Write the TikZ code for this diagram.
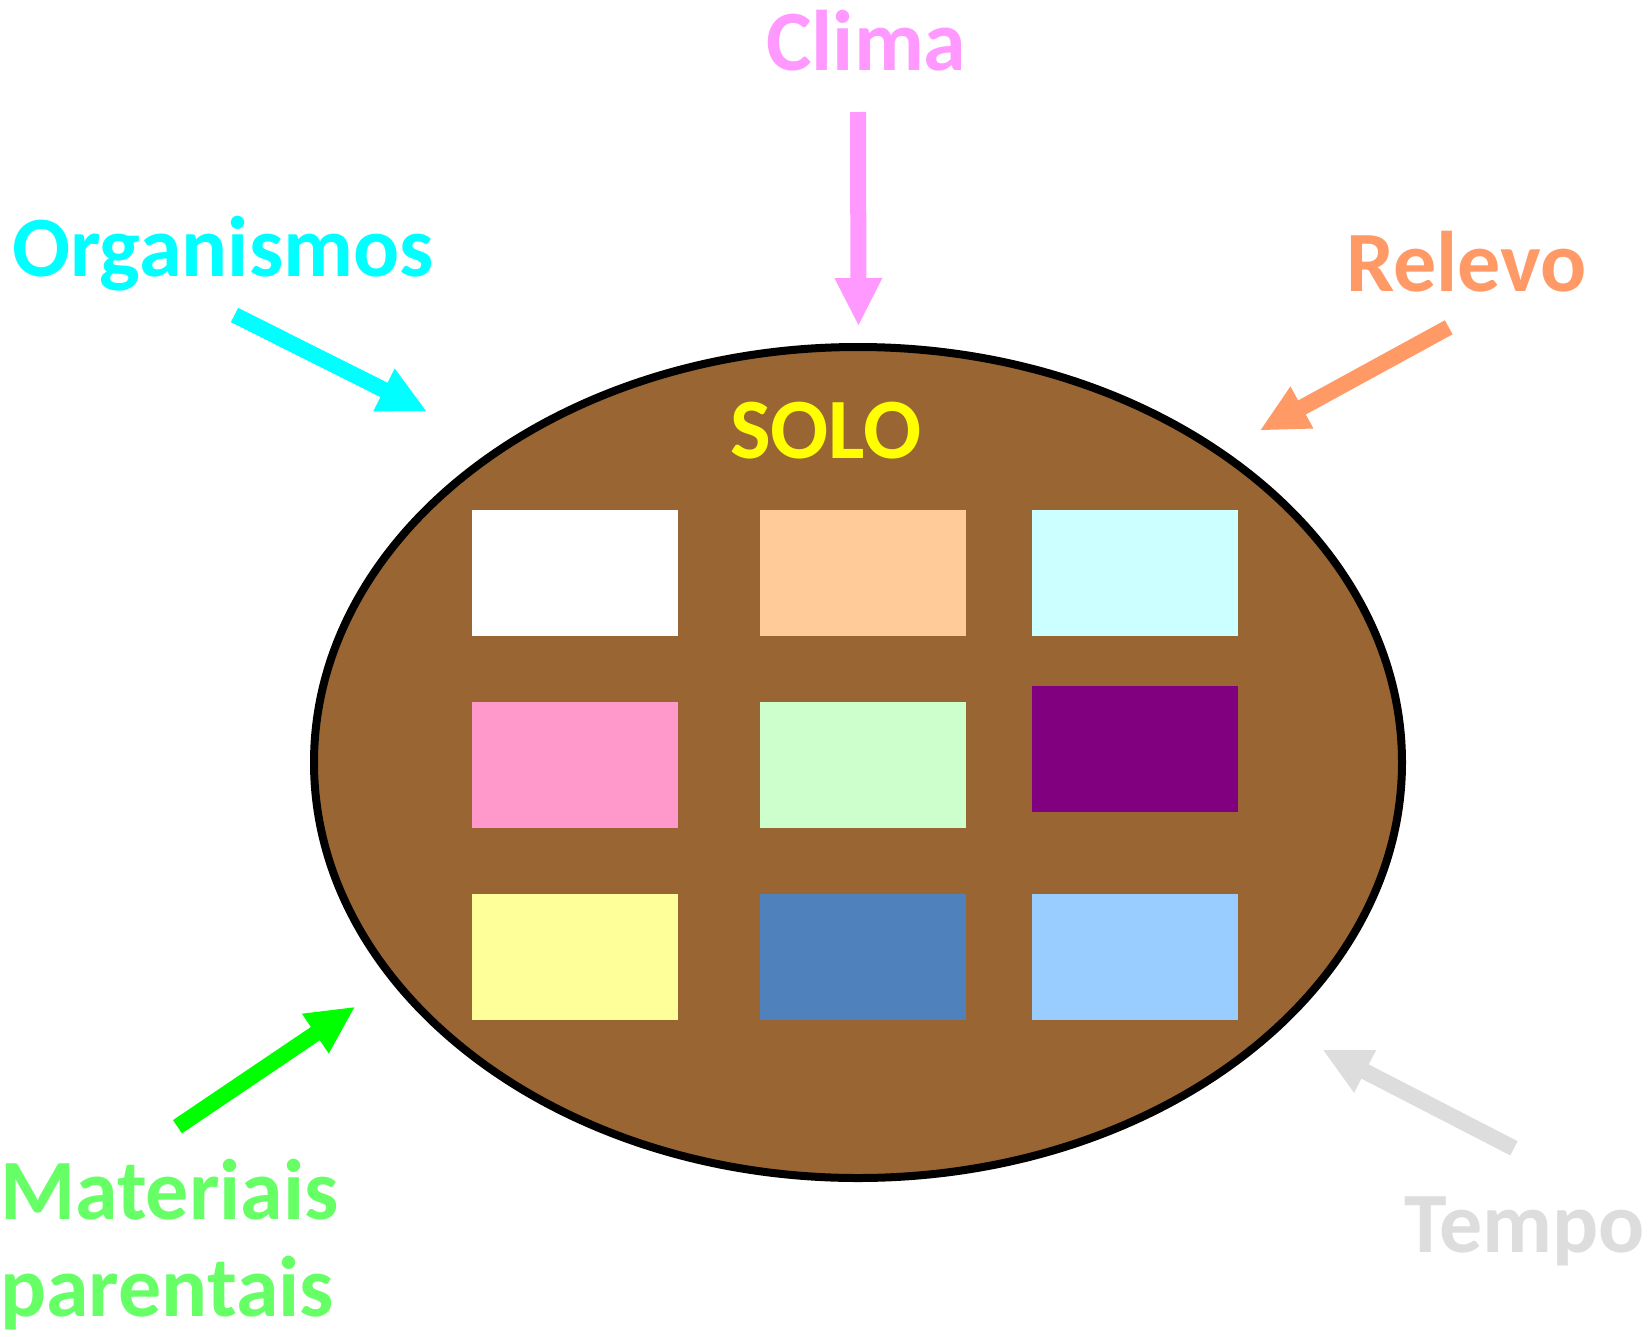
\documentclass[tikz,border=0pt]{standalone}
\usepackage{fontspec}
\setmainfont{Carlito}
\usetikzlibrary{calc,shapes.geometric}
\definecolor{soil}{HTML}{996633}
\definecolor{climac}{HTML}{FF99FF}
\definecolor{orgc}{HTML}{00FFFF}
\definecolor{relc}{HTML}{FF9966}
\definecolor{matc}{HTML}{66FF66}
\definecolor{matarr}{HTML}{00FF00}
\definecolor{tempc}{HTML}{DDDDDD}
\definecolor{solotxt}{HTML}{FFFF00}
\definecolor{bA}{HTML}{FFFFFF}
\definecolor{bB}{HTML}{FFCC99}
\definecolor{bC}{HTML}{CCFFFF}
\definecolor{bD}{HTML}{FF99CC}
\definecolor{bE}{HTML}{CCFFCC}
\definecolor{bF}{HTML}{800080}
\definecolor{bG}{HTML}{FFFF99}
\definecolor{bH}{HTML}{4F81BD}
\definecolor{bI}{HTML}{99CCFF}
\tikzset{
  lbl/.style={font=\fontsize{86}{100}\selectfont\bfseries, inner sep=0pt, anchor=base west},
  box/.style={minimum width=206pt, minimum height=126pt, inner sep=0pt, draw=none},
}
\newcommand{\blockarr}[3]{%
  \fill[#3] ($(#1)!8pt!90:(#2)$) -- ($($(#2)!47pt!(#1)$)!8pt!90:(#2)$)
    -- ($($(#2)!47pt!(#1)$)!24pt!90:(#2)$) -- (#2)
    -- ($($(#2)!47pt!(#1)$)!24pt!-90:(#2)$) -- ($($(#2)!47pt!(#1)$)!8pt!-90:(#2)$)
    -- ($(#1)!8pt!-90:(#2)$) -- cycle;}
\begin{document}
\begin{tikzpicture}[x=1pt,y=-1pt]
\useasboundingbox (0,0) rectangle (1649,1336);
% soil ellipse
\node[ellipse, draw=black, line width=8pt, fill=soil, minimum width=1088pt, minimum height=831pt, inner sep=0pt] (solo) at (858,762.5) {};
\node[font=\fontsize{86}{100}\selectfont\bfseries, text=solotxt, inner sep=0pt, anchor=base] (solotxt) at (826,458) {SOLO};
% boxes
\node[box, fill=bA] (b1) at (575,573) {};
\node[box, fill=bB] (b2) at (863,573) {};
\node[box, fill=bC] (b3) at (1135,573) {};
\node[box, fill=bD] (b4) at (575,764.5) {};
\node[box, fill=bE] (b5) at (863,764.5) {};
\node[box, fill=bF] (b6) at (1135,749) {};
\node[box, fill=bG] (b7) at (575,957) {};
\node[box, fill=bH] (b8) at (863,957) {};
\node[box, fill=bI] (b9) at (1135,957) {};
% labels
\node[lbl, text=climac] (clima) at (766,70.5) {Clima};
\node[lbl, text=orgc] (org) at (12,276) {Organismos};
\node[lbl, text=relc] (rel) at (1346,291) {Relevo};
\node[lbl, text=matc] (mat1) at (0,1219) {Materiais};
\node[lbl, text=matc] (mat2) at (0,1316) {parentais};
\node[lbl, text=tempc] (tempo) at (1404,1252) {Tempo};
% arrow end points
\coordinate (cs) at (858,112);
\coordinate (ct) at (858.5,325);
\coordinate (os) at (234.5,315);
\coordinate (ot) at (426,411);
\coordinate (rs) at (1448.7,327.3);
\coordinate (rt) at (1260.7,430);
\coordinate (ms) at (177.5,1126.7);
\coordinate (mt) at (354.3,1007.3);
\coordinate (ts) at (1514,1148.3);
\coordinate (tt) at (1323.3,1050);
\blockarr{cs}{ct}{climac}
\blockarr{os}{ot}{orgc}
\blockarr{rs}{rt}{relc}
\blockarr{ms}{mt}{matarr}
\blockarr{ts}{tt}{tempc}
\end{tikzpicture}
\end{document}
